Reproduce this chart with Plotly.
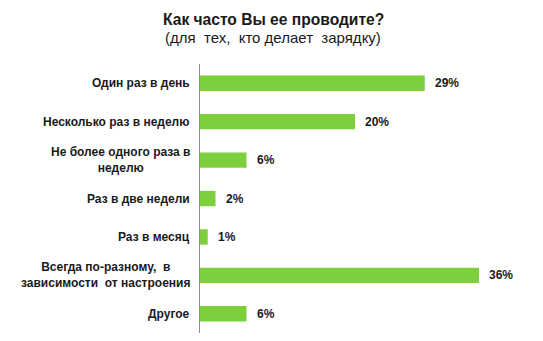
import plotly.graph_objects as go

categories = [
    "Один раз в день",
    "Несколько раз в неделю",
    "Не более одного раза в<br>неделю",
    "Раз в две недели",
    "Раз в месяц",
    "Всегда по-разному,  в<br>зависимости  от настроения",
    "Другое",
]
values = [29, 20, 6, 2, 1, 36, 6]
value_labels = [f"{v}%" for v in values]

title_text = "Как часто Вы ее проводите?"
subtitle_text = "(для  тех,  кто делает  зарядку)"

font_family = "Liberation Sans, Arial, sans-serif"
text_color = "#1a1a1a"
bar_color = "#7dcf3b"

W, H = 543, 341
M_L, M_R, M_T, M_B = 200, 33, 64, 8

fig = go.Figure()
fig.add_trace(go.Bar(
    x=values,
    y=list(range(len(categories))),
    orientation="h",
    marker=dict(color=bar_color, line=dict(width=0)),
    width=0.4,
    hoverinfo="skip",
))

# category labels, right-aligned against the axis, multi-line labels centred
for i, cat in enumerate(categories):
    fig.add_annotation(
        x=0, xref="paper", y=i, yref="y",
        text=cat, showarrow=False,
        xanchor="right", yanchor="middle", align="center",
        xshift=-8,
        font=dict(family=font_family, size=12, color=text_color, weight="bold"),
    )

# value labels to the right of each bar
for i, (v, lab) in enumerate(zip(values, value_labels)):
    fig.add_annotation(
        x=v, xref="x", y=i, yref="y",
        text=lab, showarrow=False,
        xanchor="left", yanchor="middle",
        xshift=8,
        font=dict(family=font_family, size=12, color=text_color, weight="bold"),
    )

# title block, centred on the page above the plot area
plot_w = W - M_L - M_R
plot_h = H - M_T - M_B


def paper_x(px):
    return (px - M_L) / plot_w


def paper_y(px):
    return (H - M_B - px) / plot_h


fig.add_annotation(
    x=paper_x(273), xref="paper", y=paper_y(19), yref="paper",
    text=f"<b>{title_text}</b>", showarrow=False,
    xanchor="center", yanchor="middle",
    font=dict(family=font_family, size=15.6, color=text_color),
)
fig.add_annotation(
    x=paper_x(273), xref="paper", y=paper_y(38), yref="paper",
    text=subtitle_text, showarrow=False,
    xanchor="center", yanchor="middle",
    font=dict(family=font_family, size=15, color=text_color),
)

fig.update_layout(
    width=W, height=H,
    margin=dict(l=M_L, r=M_R, t=M_T, b=M_B),
    paper_bgcolor="white", plot_bgcolor="white",
    showlegend=False,
    xaxis=dict(range=[0, 40], visible=False, fixedrange=True),
    yaxis=dict(
        range=[len(categories) - 0.5, -0.5],
        showticklabels=False, showgrid=False, zeroline=False,
        showline=True, linecolor="#8c8c8c", linewidth=1,
        ticks="", fixedrange=True,
    ),
)

fig.write_html("out.html", config={"displayModeBar": False})
